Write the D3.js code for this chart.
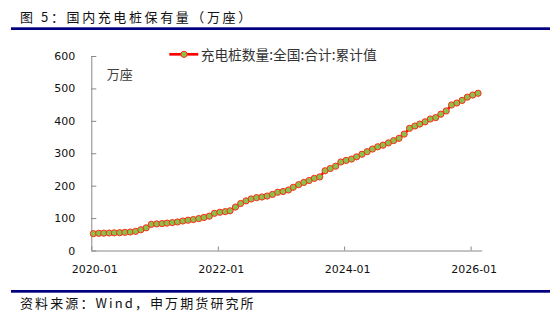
<!DOCTYPE html>
<html>
<head>
<meta charset="utf-8">
<script src="https://cdn.jsdelivr.net/npm/d3@7"></script>
<style>
  body { margin: 0; background: #fff; }
  .cjk { font-family: "Noto Sans CJK SC", sans-serif; }
  .axis text { font-family: "DejaVu Sans", sans-serif; font-size: 11px; fill: #111; }
  .axis path, .axis line { stroke: #898989; }
</style>
</head>
<body>
<svg id="chart" width="550" height="320"></svg>
<script>
// monthly cumulative values, 2020-01 .. 2026-02 (万座)
var startYear = 2020, startMonth = 0;
var values = [
  52, 53, 53.5, 54, 54.5, 55, 56, 57, 59, 64, 70, 80.7,
  82, 83, 84.5, 86, 88, 91, 93.5, 95.5, 98.5, 102, 106, 114.7,
  118, 120, 122.5, 134, 145, 153, 159, 163, 165, 168, 173, 179.7,
  182, 186.6, 195, 203, 210, 216, 222.6, 227, 246, 253, 260, 273,
  278, 282, 289, 297, 304.8, 313, 320, 325, 332, 339, 346, 359,
  377, 384, 390, 397, 405.6, 410, 420.5, 430.5, 449, 455, 463, 473,
  479.6, 485
];
var yTicks = [0, 100, 200, 300, 400, 500, 600];
var xTicks = ["2020-01", "2022-01", "2024-01", "2026-01"];
var seriesName = "充电桩数量:全国:合计:累计值";
var unitLabel = "万座";
var title = "图 5：国内充电桩保有量（万座）";
var source = "资料来源：Wind，申万期货研究所";

var svg = d3.select("#chart");
var parse = d3.timeParse("%Y-%m");

var data = values.map(function(v, i) {
  return { date: new Date(startYear, startMonth + i, 13), value: v };
});

var x = d3.scaleTime()
  .domain([new Date(2020, 0, 1), new Date(2026, 2, 6)])
  .range([91.3, 481.7]);
var y = d3.scaleLinear().domain([0, 600]).range([250.5, 56]);

// header / footer
svg.append("text").attr("class", "cjk")
  .attr("x", 20).attr("y", 16.5)
  .attr("dominant-baseline", "central")
  .style("font-size", "13px").style("letter-spacing", "2.6px")
  .attr("fill", "#111").text(title);
svg.append("rect").attr("x", 11).attr("y", 27.3).attr("width", 539).attr("height", 2.7).attr("fill", "#000080");
svg.append("rect").attr("x", 11).attr("y", 290).attr("width", 539).attr("height", 2.7).attr("fill", "#000080");
svg.append("text").attr("class", "cjk")
  .attr("x", 20).attr("y", 302.7)
  .attr("dominant-baseline", "central")
  .style("font-size", "13px").style("letter-spacing", "2.1px")
  .attr("fill", "#111").text(source);

// axes
svg.append("g").attr("class", "axis")
  .attr("transform", "translate(" + x.range()[0] + ",0)")
  .call(d3.axisLeft(y).tickValues(yTicks).tickSizeInner(-5).tickSizeOuter(0).tickPadding(16))
  .call(function(g) { g.select(".domain").attr("d", "M0.5," + y(600) + "V" + y(0)); });

var gx = svg.append("g").attr("class", "axis")
  .attr("transform", "translate(0," + y(0) + ")")
  .call(d3.axisBottom(x).tickValues(xTicks.map(parse))
    .tickFormat(d3.timeFormat("%Y-%m")).tickSizeInner(-4).tickSizeOuter(0).tickPadding(14.5));
gx.selectAll(".tick text").attr("dx", 3);

svg.append("text").attr("class", "cjk")
  .attr("x", 106.7).attr("y", 73.3)
  .attr("dominant-baseline", "central")
  .style("font-size", "13px").attr("fill", "#404040").text(unitLabel);

// series
var line = d3.line().x(function(d) { return x(d.date); }).y(function(d) { return y(d.value); });
svg.append("path").datum(data)
  .attr("d", line).attr("fill", "none").attr("stroke", "#ff0000").attr("stroke-width", 2.5);

svg.append("g").selectAll("circle").data(data).enter().append("circle")
  .attr("cx", function(d) { return x(d.date); })
  .attr("cy", function(d) { return y(d.value); })
  .attr("r", 3.1)
  .attr("fill", "#8cc04a")
  .attr("stroke", "#ff2a1a")
  .attr("stroke-width", 1);

// legend
var lg = svg.append("g").attr("transform", "translate(0,54.3)");
lg.append("line").attr("x1", 169.3).attr("x2", 198.3)
  .attr("stroke", "#ff0000").attr("stroke-width", 2.7);
lg.append("circle").attr("cx", 184).attr("cy", 0).attr("r", 3.1)
  .attr("fill", "#8cc04a").attr("stroke", "#ff2a1a").attr("stroke-width", 1);
lg.append("text").attr("class", "cjk")
  .attr("x", 200.7).attr("y", 0)
  .attr("dominant-baseline", "central")
  .style("font-size", "14px").attr("fill", "#333")
  .attr("textLength", 176).attr("lengthAdjust", "spacingAndGlyphs")
  .text(seriesName);
</script>
</body>
</html>
